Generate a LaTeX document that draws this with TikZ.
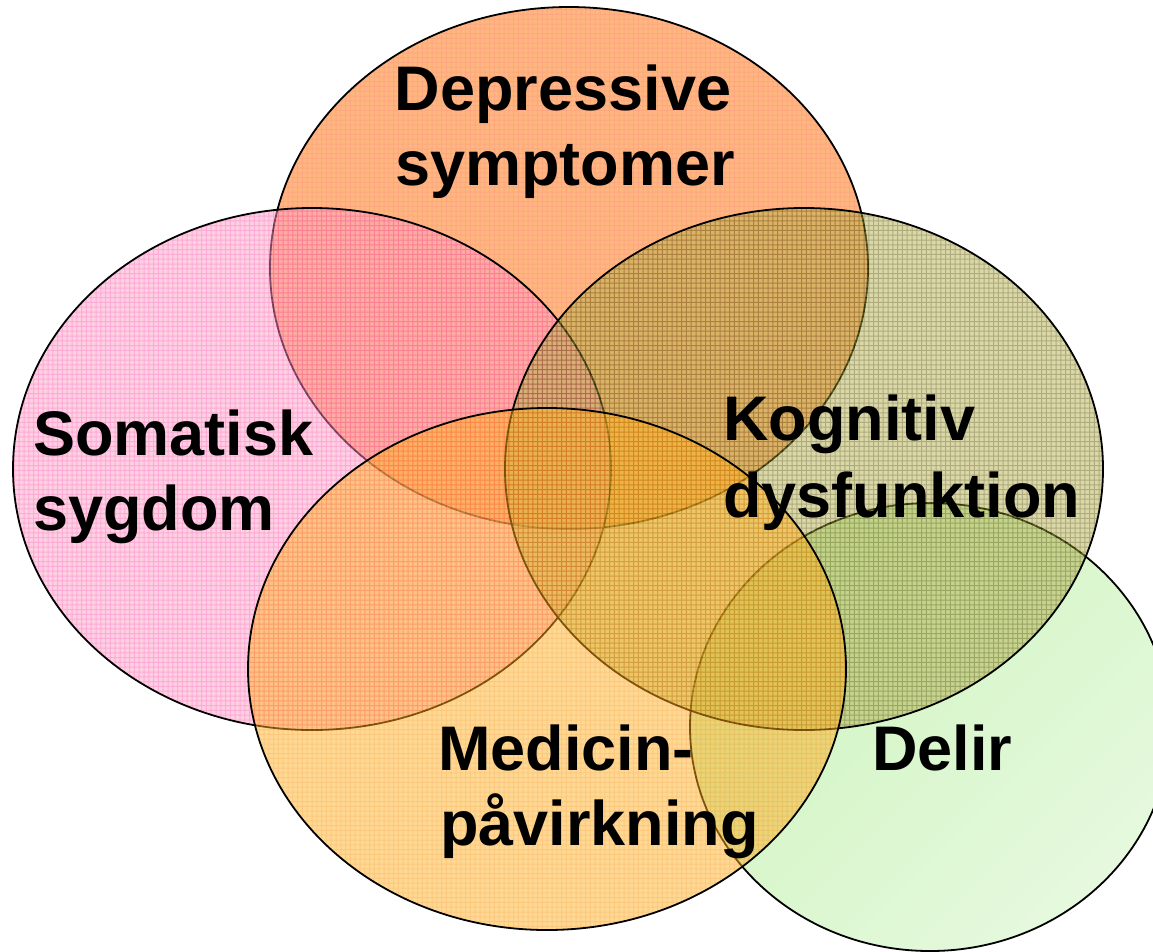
\documentclass[tikz,border=0pt]{standalone}
\usepackage{fontspec}
\setmainfont{Liberation Sans}
\usetikzlibrary{shapes.geometric,patterns.meta}
\definecolor{cDep}{RGB}{255,112,0}
\definecolor{lDep}{RGB}{250,80,0}
\definecolor{cSom}{RGB}{255,161,201}
\definecolor{lSom}{RGB}{249,90,170}
\definecolor{cKog}{RGB}{181,178,80}
\definecolor{lKog}{RGB}{95,88,0}
\definecolor{cMed}{RGB}{255,180,40}
\definecolor{lMed}{RGB}{250,145,0}
\definecolor{cDelA}{RGB}{206,244,190}
\definecolor{cDelB}{RGB}{230,249,222}
\newcommand\vennfill[3]{%
  \begin{scope}[transparency group, opacity=0.5]
    \fill[#2] #1 ellipse [x radius=299, y radius=261];
    \fill[pattern={Hatch[angle=0,distance=4.8pt,line width=1pt]}, pattern color=#3]
      #1 ellipse [x radius=299, y radius=261];
  \end{scope}}
\begin{document}
\begin{tikzpicture}[x=1pt,y=-1pt,
  vline/.style={ellipse, draw=black, line width=1.8pt,
    minimum width=598pt, minimum height=522pt, inner sep=0pt, outer sep=0pt},
  lbl/.style={font=\fontsize{63}{75}\selectfont\bfseries, inner sep=0pt, text=black}]
\path[use as bounding box] (0,0) rectangle (1153,951);
% Depressive symptomer
\vennfill{(569,268)}{cDep}{lDep}
\node[vline] (dep) at (569,268) {};
% Somatisk sygdom
\vennfill{(312,469)}{cSom}{lSom}
\node[vline] (som) at (312,469) {};
% Delir
\node[ellipse, draw=black, line width=1.8pt, inner sep=0pt, outer sep=0pt,
  minimum width=480pt, minimum height=448pt,
  left color=cDelA, right color=cDelB, shading angle=45] (del) at (930,727) {};
% Kognitiv dysfunktion
\vennfill{(804,469)}{cKog}{lKog}
\node[vline] (kog) at (804,469) {};
% Medicin-paavirkning
\vennfill{(547,669)}{cMed}{lMed}
\node[vline] (med) at (547,669) {};
% labels
\node[lbl, anchor=base] (dep1) at (563,110) {Depressive};
\node[lbl, anchor=base] (dep2) at (565,185) {symptomer};
\node[lbl, anchor=base west] (som1) at (33,455) {Somatisk};
\node[lbl, anchor=base west] (som2) at (33,530) {sygdom};
\node[lbl, anchor=base west] (kog1) at (723,440) {Kognitiv};
\node[lbl, anchor=base west] (kog2) at (723,517) {dysfunktion};
\node[lbl, anchor=base west] (med1) at (438,770) {Medicin-};
\node[lbl, anchor=base west] (med2) at (440,845) {påvirkning};
\node[lbl, anchor=base west] (del1) at (872,770) {Delir};
\end{tikzpicture}
\end{document}
